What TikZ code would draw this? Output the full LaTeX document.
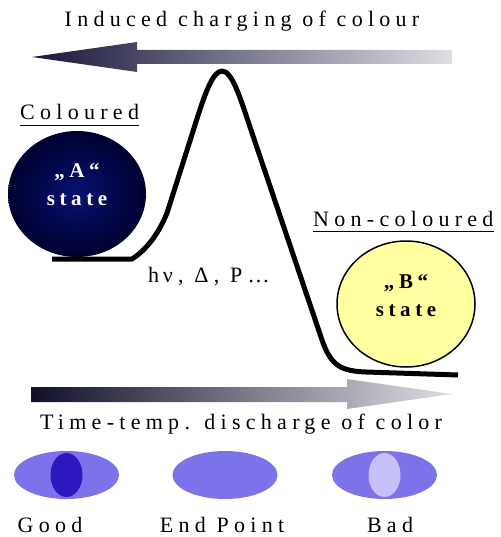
\documentclass[tikz,border=0pt]{standalone}
\usepackage{fontspec}
\setmainfont{Liberation Serif}
\usetikzlibrary{shapes.geometric}
\definecolor{navyin}{RGB}{6,18,112}
\definecolor{navyout}{RGB}{0,0,48}
\definecolor{arrdark}{RGB}{22,22,58}
\definecolor{arrlight}{RGB}{222,222,228}
\definecolor{ballyellow}{RGB}{255,255,160}
\definecolor{ellmid}{RGB}{124,114,234}
\definecolor{elldark}{RGB}{44,24,190}
\definecolor{elllight}{RGB}{198,192,248}
\begin{document}
\begin{tikzpicture}[x=1pt,y=-1pt,
  lbl/.style={inner sep=0pt, font=\fontsize{22}{24}\selectfont\addfontfeature{LetterSpace=24}},
  statetxt/.style={inner sep=0pt, align=center, font=\fontsize{21}{28}\selectfont\bfseries\addfontfeature{LetterSpace=22}},
  ball/.style={ellipse, inner sep=0pt, minimum width=138pt, minimum height=126pt},
  outerell/.style={ellipse, inner sep=0pt, fill=ellmid, minimum width=105pt, minimum height=48pt},
  innerell/.style={ellipse, inner sep=0pt, minimum width=32pt, minimum height=44pt},
  uline/.style={line width=1.5pt},
  curve/.style={line width=5pt, line join=round, line cap=butt}]
\useasboundingbox (0,0) rectangle (500,537);

% top arrow
\shade[left color=arrdark, right color=arrlight]
  (32,57) -- (137,42) -- (137,50) -- (452,50) -- (452,64) -- (137,64) -- (137,72) -- cycle;
\node[lbl, anchor=base] (title) at (242,27) {Induced charging of colour};

% labels
\node[lbl, anchor=base west] (colA) at (20,120) {Coloured};
\draw[uline] ([yshift=-5.5pt]colA.base west) -- ([yshift=-5.5pt]colA.base east);
\node[lbl, anchor=base west] (colB) at (313,226) {Non-coloured};
\draw[uline] ([yshift=-5.5pt]colB.base west) -- ([yshift=-5.5pt]colB.base east);

% state balls
\node[ball, shade, inner color=navyin, outer color=navyout] (A) at (77,194) {};
\node[statetxt, text=white] (Atxt) at ([yshift=9pt]A.center) {„A“\\state};
\node[ball, fill=ballyellow, draw=black, line width=1.5pt] (B) at (406,304) {};
\node[statetxt, text=black] (Btxt) at ([yshift=8pt]B.center) {„B“\\state};

% energy curve
\draw[curve] (52,259) -- (132,259)
  .. controls (146,250) and (158,235) .. (167,213)
  -- (195,125)
  .. controls (205,93) and (213,71) .. (222,71)
  .. controls (232,71) and (240,97) .. (250,127)
  -- (322,340)
  .. controls (331,366) and (341,371) .. (366,372)
  -- (458,375);

\node[lbl, anchor=base west] (hv) at (148,282) {h\,ν, Δ, P…};

% bottom arrow
\shade[left color=arrdark!70!black, right color=arrlight]
  (31,387) -- (347,387) -- (347,379) -- (452,394) -- (347,409) -- (347,402) -- (31,402) -- cycle;
\node[lbl, anchor=base] (disch) at (241,429) {Time-temp. discharge of color};

% ellipses
\node[outerell] (e1) at (66.5,475) {};
\node[innerell, fill=elldark] (e1i) at (e1) {};
\node[outerell] (e2) at (225,475) {};
\node[outerell] (e3) at (384.5,475) {};
\node[innerell, fill=elllight] (e3i) at (e3) {};

\node[lbl, anchor=base] (good) at (50,532) {Good};
\node[lbl, anchor=base] (endp) at (222,532) {End Point};
\node[lbl, anchor=base] (bad) at (390,532) {Bad};
\end{tikzpicture}
\end{document}
